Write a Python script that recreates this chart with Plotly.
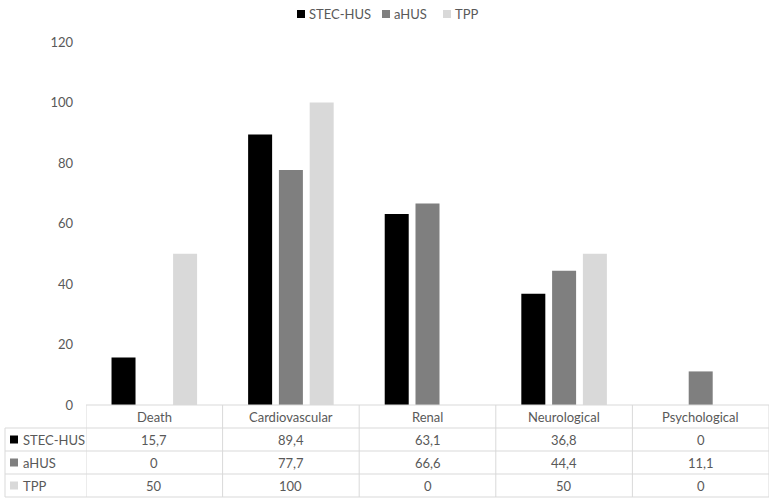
import plotly.graph_objects as go

categories = ["Death", "Cardiovascular", "Renal", "Neurological", "Psychological"]
series_names = ["STEC-HUS", "aHUS", "TPP"]
stec_hus = [15.7, 89.4, 63.1, 36.8, 0]
ahus = [0, 77.7, 66.6, 44.4, 11.1]
tpp = [50, 100, 0, 50, 0]
y_ticks = [0, 20, 40, 60, 80, 100, 120]

series_values = [stec_hus, ahus, tpp]
colors = ["#000000", "#7f7f7f", "#d9d9d9"]

W, H = 773, 504
ML, MR, MT, MB = 86, 4, 42, 99
PW = W - ML - MR
PH = H - MT - MB
FONT = "Lato"
TXT = "#595959"
LINE = "#d9d9d9"
FS = 13


def py2paper(py):
    return (H - MB - py) / PH


def px2paper(px):
    return (px - ML) / PW


def fmt(v):
    return f"{v:g}".replace(".", ",")


fig = go.Figure()
for name, vals, c in zip(series_names, series_values, colors):
    fig.add_trace(go.Bar(x=list(range(len(categories))), y=vals, name=name,
                         marker=dict(color=c, line=dict(width=0)), showlegend=False,
                         hoverinfo="skip"))

shapes = []
annotations = []
n = len(categories)
row_tops = [405, 428, 451, 474, 497]
left_px = 5

# legend (top)
legend_sq_px = [297, 382, 443]
for name, c, sx in zip(series_names, colors, legend_sq_px):
    shapes.append(dict(type="rect", xref="paper", yref="paper",
                       x0=px2paper(sx), x1=px2paper(sx + 8),
                       y0=py2paper(18), y1=py2paper(10),
                       fillcolor=c, line=dict(width=0)))
    annotations.append(dict(x=px2paper(sx + 10), y=py2paper(14), xref="paper", yref="paper",
                            text=name, showarrow=False, font=dict(family=FONT, size=FS, color=TXT),
                            xanchor="left", yanchor="middle"))

# horizontal lines
shapes.append(dict(type="line", xref="x", yref="paper", x0=-0.5, x1=n - 0.5,
                   y0=py2paper(405), y1=py2paper(405), line=dict(color=LINE, width=1)))
for py in row_tops[1:]:
    shapes.append(dict(type="line", xref="paper", yref="paper", x0=px2paper(left_px), x1=1,
                       y0=py2paper(py), y1=py2paper(py), line=dict(color=LINE, width=1)))
# vertical lines
for i in range(n + 1):
    shapes.append(dict(type="line", xref="x", yref="paper", x0=i - 0.5, x1=i - 0.5,
                       y0=py2paper(405), y1=py2paper(497), line=dict(color=LINE, width=1)))
shapes.append(dict(type="line", xref="paper", yref="paper", x0=px2paper(left_px), x1=px2paper(left_px),
                   y0=py2paper(428), y1=py2paper(497), line=dict(color=LINE, width=1)))

# header row
for i, cat in enumerate(categories):
    annotations.append(dict(x=i, y=py2paper((405 + 428) / 2), xref="x", yref="paper",
                            text=cat, showarrow=False, font=dict(family=FONT, size=FS, color=TXT),
                            xanchor="center", yanchor="middle"))
# data rows
for r, (name, vals, c) in enumerate(zip(series_names, series_values, colors)):
    yc = (row_tops[r + 1] + row_tops[r + 2]) / 2
    shapes.append(dict(type="rect", xref="paper", yref="paper",
                       x0=px2paper(10), x1=px2paper(18),
                       y0=py2paper(yc + 4), y1=py2paper(yc - 4),
                       fillcolor=c, line=dict(width=0)))
    annotations.append(dict(x=px2paper(21), y=py2paper(yc), xref="paper", yref="paper",
                            text=name, showarrow=False, font=dict(family=FONT, size=FS, color=TXT),
                            xanchor="left", yanchor="middle"))
    for i, v in enumerate(vals):
        annotations.append(dict(x=i, y=py2paper(yc), xref="x", yref="paper",
                                text=fmt(v), showarrow=False,
                                font=dict(family=FONT, size=FS, color=TXT),
                                xanchor="center", yanchor="middle"))

fig.update_layout(
    width=W, height=H,
    margin=dict(l=ML, r=MR, t=MT, b=MB, autoexpand=False),
    paper_bgcolor="white", plot_bgcolor="white",
    font=dict(family=FONT, size=FS, color=TXT),
    barmode="group", bargap=0.324, bargroupgap=0.22,
    showlegend=False, hovermode=False,
    xaxis=dict(range=[-0.5, n - 0.5], showticklabels=False, showgrid=False, zeroline=False,
               showline=False, ticks=""),
    yaxis=dict(range=[0, 120], tickvals=y_ticks, showgrid=False, zeroline=False,
               showline=False, ticks="", ticklabelstandoff=12,
               tickfont=dict(family=FONT, size=FS, color=TXT)),
    shapes=shapes, annotations=annotations,
)

fig.write_html("out.html", config={"displayModeBar": False},
               post_script="document.body.style.margin='0';")
